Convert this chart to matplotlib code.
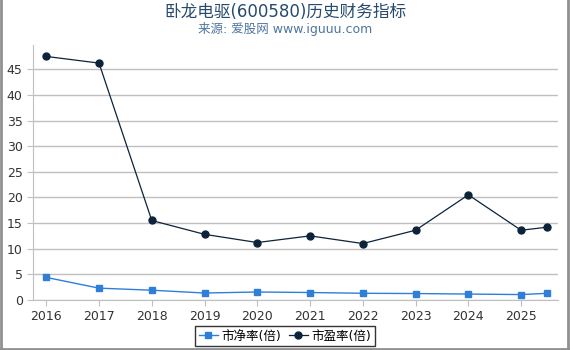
import matplotlib
matplotlib.use('Agg')
import matplotlib.pyplot as plt
from matplotlib.lines import Line2D

plt.rcParams['font.family'] = ['DejaVu Sans', 'Noto Sans CJK SC']

years = [2016, 2017, 2018, 2019, 2020, 2021, 2022, 2023, 2024, 2025, 2025.5]
pb = [4.4, 2.3, 1.9, 1.35, 1.55, 1.45, 1.3, 1.25, 1.15, 1.05, 1.3]
pe = [47.5, 46.2, 15.5, 12.8, 11.2, 12.5, 11.0, 13.6, 20.5, 13.6, 14.2]
xticks = [2016, 2017, 2018, 2019, 2020, 2021, 2022, 2023, 2024, 2025]

pb_color = '#2f7ed8'
pe_color = '#0d233a'

fig = plt.figure(figsize=(5.7, 3.5), dpi=100)
ax = fig.add_axes([0.058, 0.143, 0.921, 0.728])

ax.plot(years, pb, color=pb_color, marker='s', markersize=5, linewidth=1, label='市净率(倍)')
ax.plot(years, pe, color=pe_color, marker='o', markersize=5, linewidth=0.9, label='市盈率(倍)')

ax.set_xlim(2015.75, 2025.7)
ax.set_ylim(0, 49.7)
ax.set_xticks(xticks)
ax.set_yticks(range(0, 50, 5))
ax.yaxis.grid(True, color='#c0c0c0', linewidth=1)
ax.set_axisbelow(True)
for s in ['top', 'right']:
    ax.spines[s].set_visible(False)
for s in ['left', 'bottom']:
    ax.spines[s].set_color('#c0c0c0')
ax.tick_params(colors='#c0c0c0', labelcolor='#333333', labelsize=9, length=4)

fig.text(0.5, 0.965, '卧龙电驱(600580)历史财务指标', ha='center', va='center',
         fontsize=12, color='#274b6d')
fig.text(0.5, 0.918, '来源: 爱股网 www.iguuu.com', ha='center', va='center',
         fontsize=9, color='#4d759e')

leg = fig.legend(loc='center', bbox_to_anchor=(0.5, 0.04), ncol=2, fontsize=9,
                 frameon=True, fancybox=False, handlelength=1.5, handletextpad=0.3,
                 columnspacing=0.6, borderpad=0.3)
leg.get_frame().set_edgecolor('black')
leg.get_frame().set_linewidth(1)

# figure border
for xs, ys in [([0.001, 0.001], [0, 1]), ([0.997, 0.997], [0, 1]), ([0, 1], [0.004, 0.004])]:
    fig.add_artist(Line2D(xs, ys, color='#909090', linewidth=2, transform=fig.transFigure))

fig.savefig('out.png', dpi=100)
